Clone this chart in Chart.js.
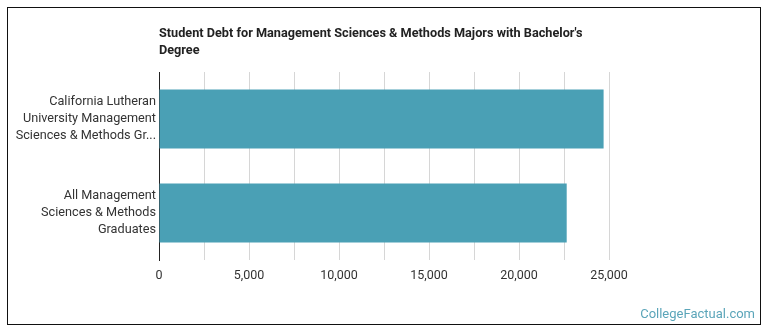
<!DOCTYPE html>
<html>
<head>
<meta charset="utf-8">
<script src="https://cdn.jsdelivr.net/npm/chart.js@4"></script>
<style>
  html, body { margin: 0; padding: 0; background: #fff; }
  #wrap { position: relative; width: 770px; height: 335px; }
  #frame { position: absolute; left: 7px; top: 7px; width: 752px; height: 316px; border: 1px solid #111; box-sizing: content-box; pointer-events: none; }
  canvas { position: absolute; left: 0; top: 0; }
</style>
</head>
<body>
<div id="wrap">
  <canvas id="c" width="770" height="335"></canvas>
  <div id="frame"></div>
</div>
<script>
const titleLines = ["Student Debt for Management Sciences & Methods Majors with Bachelor's", "Degree"];
const categories = [
  ["California Lutheran", "University Management", "Sciences & Methods Gr..."],
  ["All Management", "Sciences & Methods", "Graduates"]
];
const debtValues = [24700, 22650];
const xTickLabels = ["0", "5,000", "10,000", "15,000", "20,000", "25,000"];
const watermark = "CollegeFactual.com";

const overlayPlugin = {
  id: 'overlay',
  afterDraw(chart) {
    const ctx = chart.ctx;
    const left = chart.chartArea.left;
    ctx.save();
    ctx.fillStyle = '#222';
    ctx.font = 'bold 12.7px Roboto';
    ctx.textAlign = 'left';
    ctx.textBaseline = 'middle';
    titleLines.forEach((t, i) => ctx.fillText(t, left, 34 + i * 17));
    ctx.fillStyle = '#5ba5b9';
    ctx.font = '13px Roboto';
    ctx.textAlign = 'right';
    ctx.textBaseline = 'alphabetic';
    ctx.fillText(watermark, 755, 318);
    ctx.restore();
  }
};

new Chart(document.getElementById('c'), {
  type: 'bar',
  data: {
    labels: categories,
    datasets: [{
      data: debtValues,
      backgroundColor: '#4aa0b5',
      borderWidth: 0,
      categoryPercentage: 1,
      barPercentage: 0.63
    }]
  },
  options: {
    indexAxis: 'y',
    responsive: false,
    animation: false,
    layout: { padding: { top: 72, right: 161, bottom: 45, left: 0 } },
    plugins: { legend: { display: false }, title: { display: false }, tooltip: { enabled: false } },
    scales: {
      x: {
        min: 0,
        max: 25000,
        afterFit(s) { s.height = 30; },
        border: { display: false },
        grid: {
          drawTicks: false,
          tickLength: 0,
          color: c => (c.tick && c.tick.value === 0) ? '#222' : '#d6d6d6',
          lineWidth: 1
        },
        ticks: {
          stepSize: 2500,
          padding: 8,
          autoSkip: false,
          maxRotation: 0,
          color: '#333',
          font: { family: 'Roboto', size: 12.5 },
          callback: (v) => (v % 5000 === 0) ? xTickLabels[v / 5000] : ''
        }
      },
      y: {
        afterFit(s) { s.width = 159; },
        border: { display: true, color: '#222', width: 1 },
        grid: { display: false, drawTicks: false },
        ticks: {
          padding: 3,
          color: '#333',
          font: { family: 'Roboto', size: 12.7, lineHeight: 1.32 }
        }
      }
    }
  },
  plugins: [overlayPlugin]
});
</script>
</body>
</html>
